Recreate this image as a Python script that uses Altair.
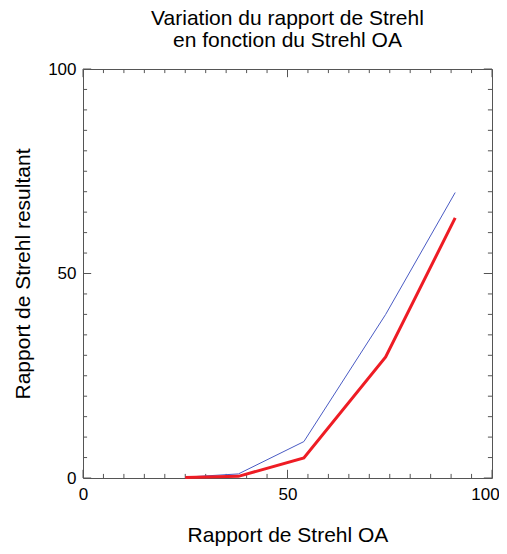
import altair as alt
import pandas as pd

# ---- data ----
strehl_oa = [25, 38, 54, 74, 91]
strehl_bleu = [0.2, 1.0, 8.9, 40.0, 69.8]
strehl_rouge = [0.1, 0.4, 4.9, 29.6, 63.6]
tick_values = list(range(0, 101, 5))
major_ticks = [0, 50, 100]

FONT = "Liberation Sans"

df_bleu = pd.DataFrame({"x": strehl_oa, "y": strehl_bleu})
df_rouge = pd.DataFrame({"x": strehl_oa, "y": strehl_rouge})

# tick segments (in data units) for the four sides, IDL-style inward ticks
rows = []
for v in tick_values:
    L = 2.0 if v in major_ticks else 1.0
    rows.append({"x": v, "x2": v, "y": 0, "y2": L})
    rows.append({"x": v, "x2": v, "y": 100, "y2": 100 - L})
    rows.append({"x": 0, "x2": L, "y": v, "y2": v})
    rows.append({"x": 100, "x2": 100 - L, "y": v, "y2": v})
df_ticks = pd.DataFrame(rows)

xs = alt.Scale(domain=[0, 100], nice=False, zero=False)
ys = alt.Scale(domain=[0, 100], nice=False, zero=False)

x_axis = alt.Axis(values=major_ticks, ticks=False, tickSize=0, domain=False, grid=False,
                  labelFontSize=17, labelFont=FONT, labelColor="#000000", labelPadding=8,
                  labelFlush=False, labelOffset={"expr": "datum.value == 100 ? -7 : 0"},
                  title="Rapport de Strehl OA", titleFont=FONT,
                  titleFontSize=21, titleFontWeight="normal", titleColor="#000000",
                  titlePadding=22)
y_axis = alt.Axis(values=major_ticks, ticks=False, tickSize=0, domain=False, grid=False,
                  labelFontSize=17, labelFont=FONT, labelColor="#000000", labelPadding=7,
                  labelFlush=False, title="Rapport de Strehl resultant", titleFont=FONT,
                  titleFontSize=21, titleFontWeight="normal", titleColor="#000000",
                  titlePadding=14)

ticks = alt.Chart(df_ticks).mark_rule(color="#555555", strokeWidth=1).encode(
    x=alt.X("x:Q", scale=xs, axis=x_axis),
    x2="x2:Q",
    y=alt.Y("y:Q", scale=ys, axis=y_axis),
    y2="y2:Q",
)
blue = alt.Chart(df_bleu).mark_line(color="#4a5bc4", strokeWidth=1).encode(
    x=alt.X("x:Q", scale=xs, axis=x_axis),
    y=alt.Y("y:Q", scale=ys, axis=y_axis),
)
red = alt.Chart(df_rouge).mark_line(color="#ee1c24", strokeWidth=3).encode(
    x=alt.X("x:Q", scale=xs, axis=x_axis),
    y=alt.Y("y:Q", scale=ys, axis=y_axis),
)

chart = alt.layer(ticks, blue, red).properties(
    width=409,
    height=409,
    padding={"left": 75, "top": 61, "right": 7, "bottom": 68},
    autosize=alt.AutoSizeParams(type="none"),
    title=alt.Title(
        ["Variation du rapport de Strehl", "en fonction du Strehl OA"],
        font=FONT, fontSize=21, fontWeight="normal", color="#000000",
        anchor="middle", frame="group", offset=9, lineHeight=22,
    ),
).configure_view(stroke="#555555", strokeWidth=1)

chart.save("out.html", embed_options={"renderer": "svg", "actions": False})
